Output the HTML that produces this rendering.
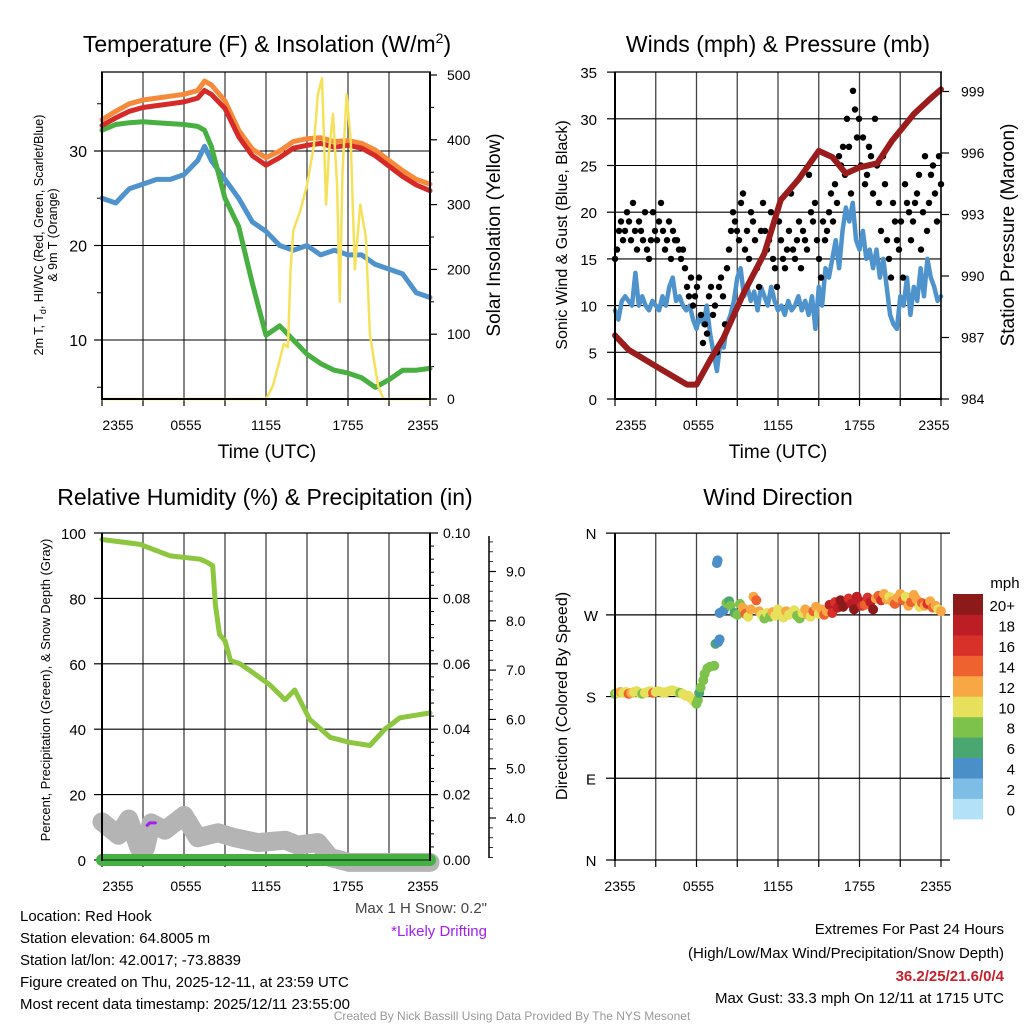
<!DOCTYPE html>
<html><head><meta charset="utf-8"><style>
html,body{margin:0;padding:0;background:#fff;}
svg{display:block;font-family:"Liberation Sans",Arial,sans-serif;}
</style></head><body>
<svg id="root" width="1024" height="1024" viewBox="0 0 1024 1024" xmlns="http://www.w3.org/2000/svg">
<g id="static">
<text x="267" y="52" font-size="23" text-anchor="middle">Temperature (F) &amp; Insolation (W/m<tspan dy="-9" font-size="14">2</tspan><tspan dy="9">)</tspan></text>
<text x="778" y="52" font-size="23" text-anchor="middle">Winds (mph) &amp; Pressure (mb)</text>
<text x="265" y="505" font-size="23" text-anchor="middle">Relative Humidity (%) &amp; Precipitation (in)</text>
<text x="778" y="505" font-size="23" text-anchor="middle">Wind Direction</text>
<text x="267" y="458" font-size="19" text-anchor="middle">Time (UTC)</text>
<text x="778" y="458" font-size="19" text-anchor="middle">Time (UTC)</text>
<g transform="translate(43,235) rotate(-90)"><text x="0" y="0" font-size="12.5" text-anchor="middle">2m T, T<tspan font-size="9" dy="3">d</tspan><tspan dy="-3">, HI/WC (Red, Green, Scarlet/Blue)</tspan></text><text x="0" y="14" font-size="12.5" text-anchor="middle">&amp; 9m T (Orange)</text></g>
<text transform="translate(500,235) rotate(-90)" font-size="19" text-anchor="middle">Solar Insolation (Yellow)</text>
<text transform="translate(567,235) rotate(-90)" font-size="16" text-anchor="middle">Sonic Wind &amp; Gust (Blue, Black)</text>
<text transform="translate(1014,235) rotate(-90)" font-size="19" text-anchor="middle">Station Pressure (Maroon)</text>
<text transform="translate(50,690) rotate(-90)" font-size="13" text-anchor="middle">Percent, Precipitation (Green), &amp; Snow Depth (Gray)</text>
<text transform="translate(567,696) rotate(-90)" font-size="16" text-anchor="middle">Direction (Colored By Speed)</text>
<text x="487" y="913" font-size="15" fill="#444" text-anchor="end">Max 1 H Snow: 0.2"</text>
<text x="487" y="936" font-size="15" fill="#a020f0" text-anchor="end">*Likely Drifting</text>
<g font-size="15">
<text x="20" y="921">Location: Red Hook</text>
<text x="20" y="943">Station elevation: 64.8005 m</text>
<text x="20" y="965">Station lat/lon: 42.0017; -73.8839</text>
<text x="20" y="987">Figure created on Thu, 2025-12-11, at 23:59 UTC</text>
<text x="20" y="1009">Most recent data timestamp: 2025/12/11 23:55:00</text>
</g>
<g font-size="15" text-anchor="end">
<text x="1004" y="934">Extremes For Past 24 Hours</text>
<text x="1004" y="958">(High/Low/Max Wind/Precipitation/Snow Depth)</text>
<text x="1004" y="981" font-weight="bold" fill="#c8202a">36.2/25/21.6/0/4</text>
<text x="1004" y="1003">Max Gust: 33.3 mph On 12/11 at 1715 UTC</text>
</g>
<text x="512" y="1020" font-size="12" fill="#999" text-anchor="middle">Created By Nick Bassill Using Data Provided By The NYS Mesonet</text>
<text x="1005" y="588" font-size="15" text-anchor="middle">mph</text>
</g>
<g id="dyn"></g>
</svg>
<script>
// ---- Time axis ----
const timeTickHours = [0, 6, 12, 18, 24];
const timeTickLabels = ["2355", "0555", "1155", "1755", "2355"];
const gridHours = [0, 3, 6, 9, 12, 15, 18, 21, 24];

// ---- Panel 1: temperature & insolation ----
const tempHours = [0,1,2,3,4,5,6,7,7.5,8,9,10,11,12,13,14,15,16,17,18,19,20,21,22,23,24];
const tempRed = [32.7,33.5,34.2,34.6,34.8,35.0,35.2,35.6,36.4,36.0,34.5,31.5,29.5,28.5,29.3,30.3,30.6,30.8,30.4,30.6,30.3,29.5,28.4,27.3,26.4,25.8];
const tempOrange = [33.3,34.2,35.0,35.4,35.6,35.8,36.0,36.4,37.4,37.0,35.3,32.2,30.2,29.3,30.0,31.0,31.3,31.4,31.0,31.1,30.8,30.1,29.0,27.9,27.0,26.5];
const dewGreen = [32.2,32.8,33.0,33.1,33.0,32.9,32.8,32.6,32.2,30.5,25,22,16,10.5,11.5,10,8.5,7.5,6.8,6.5,6,5,5.8,6.8,6.8,7.0];
const wcBlue = [25,24.5,26,26.5,27,27,27.5,29,30.5,29,27,25,22.5,21.5,20,19.5,20,19,19.5,19,19,18,17.5,17,15,14.5];
const solarHours = [0,12,12.5,13,13.3,13.6,13.8,14,14.5,15,15.5,15.8,16.1,16.4,16.6,16.9,17.2,17.4,17.6,17.9,18.2,18.5,18.9,19.3,19.6,19.9,20.2,20.6,24];
const solarVals = [0,0,20,60,85,80,200,260,290,330,390,470,495,300,380,440,330,150,350,470,400,200,300,250,100,60,20,0,0];
const tempTicks = [10,20,30];
const solarTicks = [0,100,200,300,400,500];

// ---- Panel 2: winds & pressure ----
const windVals = [9.5,8.5,10.5,11, 10.5,10,13.5,10, 11,10,9.5,10.5, 10,9.5,11,10, 12,13,10.5,11, 10,9.5,10,8.5,
 7.5,9,8,10, 7,5,3,6, 5.5,8,9,10.5, 13,14,11,12, 10.5,11.5,9.5,12, 11,10,12,10.5,
 9.5,10,9,10.5, 9.5,10,11,9.5, 10.5,9,11,7.5, 12,10,14,13, 15,17,14,18, 20.5,19,21,17,
 16,18,15,16, 14,16,13,15, 12,9,8,7.5, 11,10,13,9, 12,10.5,14,11, 15,13,12,10.5, 11];
const gustVals = [15,16,18,19,17,18,20,19,17,21,18,16,19,18,17,20,16,15,17,20,18,17,19,21,18,16,17,19,15,18,17,17,16,15,16,14,12,11,13,10,11,12,13,9,6,8,7,11,12,9,10,5,12,13,11,8,14,16,18,20,19,18,17,21,22,16,18,15,20,19,17,14,12,18,21,18,16,17,20,15,14,12,19,17,15,14,16,18,22,16,15,17,19,14,18,17,16,24,20,19,21,17,15,13,19,17,18,20,22,19,23,21,26,25,27,24,30,27,22,33,31,28,30,25,28,23,24,27,26,22,30,25,21,18,26,23,17,15,13,21,19,17,16,19,13,23,21,20,17,19,21,22,24,16,20,26,18,21,24,25,22,19,26,23];
const presHours = [0,1,3,5.3,6,7,8,9.5,11,12.2,13.5,15,16,17,18,19.3,20.4,22,23.3,24];
const presVals = [987.1,986.4,985.6,984.7,984.7,985.9,987,989.2,991.1,993.7,994.7,996.1,995.8,995.0,995.3,995.5,996.6,997.9,998.7,999.1];
const windTicks = [0,5,10,15,20,25,30,35];
const presTicks = [984,987,990,993,996,999];

// ---- Panel 3: humidity, precipitation, snow ----
const rhHours = [0,2.8,5,7.2,7.7,8.1,8.3,8.6,9,9.4,10.1,10.8,12.3,13.4,14.1,15.2,16.7,18.1,19.6,20.7,21.8,24];
const rhVals = [98,96.5,93,92,91,90,78,69,67,61,60,58,53.5,49,52,43,37.5,36,35,40,43.5,45];
const snowHours = [0,1.2,1.95,2.7,3.2,3.6,4.6,6.0,7.0,8.5,9.7,11.4,13.4,14.3,15.8,16.7,18.1,24];
const snowVals = [3.92,3.65,3.98,3.4,3.4,3.9,3.75,4.05,3.6,3.7,3.6,3.5,3.55,3.45,3.5,3.2,3.1,3.1];
const precipHours = [0,24];
const precipVals = [0,0];
const driftHours = [3.3,3.5,3.9];
const driftVals = [3.85,3.9,3.9];
const rhTicks = [0,20,40,60,80,100];
const precipTicks = ["0.00","0.02","0.04","0.06","0.08","0.10"];
const snowTicks = ["4.0","5.0","6.0","7.0","8.0","9.0"];

// ---- Panel 4: wind direction ----
const dirHours = [0,0.2,0.4,0.6,0.8,1.0,1.2,1.4,1.6,1.8,2.0,2.2,2.4,2.6,2.8,3.0,3.2,3.4,3.6,3.8,4.0,4.2,4.4,4.6,4.8,5.0,5.2,
5.4,5.6,5.8,6.0,6.1,6.2,6.3,6.5,6.6,6.8,7.0,7.3,7.4,7.6,7.7,7.5,7.55,7.7,8.0,8.2,8.4,8.5,8.8,9.0,
9.2,9.4,9.6,9.8,10.0,10.2,10.4,10.6,10.8,11.0,11.2,11.4,11.6,11.8,12.0,12.2,12.4,12.6,12.8,13.0,13.2,13.4,13.6,13.8,14.0,14.2,14.4,14.6,14.8,15.0,15.2,15.4,15.6,15.8,16.0,16.2,16.4,16.6,16.8,17.0,17.2,17.4,17.6,17.8,18.0,18.2,18.4,18.6,18.8,19.0,19.2,19.4,19.6,19.8,20.0,20.2,20.4,20.6,20.8,21.0,21.2,21.4,21.6,21.8,22.0,22.2,22.4,22.6,22.8,23.0,23.2,23.4,23.6,23.8,24.0];
const dirDeg = [183,184,185,184,185,183,184,185,186,184,183,184,185,186,184,185,186,185,184,185,186,187,186,185,184,183,181,
181,178,175,172,176,184,190,198,205,211,213,214,238,240,243,327,330,272,275,283,285,280,272,270,
282,278,271,268,276,290,286,274,270,266,272,268,273,269,276,271,267,274,270,272,275,269,266,272,276,270,268,274,279,271,
276,270,274,281,272,284,278,286,279,283,288,282,276,290,285,280,281,289,284,276,
288,291,286,293,287,290,285,282,289,293,286,290,280,284,292,287,279,283,280,282,285,278,280,276,274];
const dirSpd = [8,10,12,10,10,14,12,10,10,10,8,10,10,10,14,10,10,10,10,10,10,10,10,10,8,10,10,
10,10,10,8,8,6,8,8,8,8,8,8,6,4,4,4,4,4,4,8,6,8,6,8,
8,12,14,10,12,12,14,12,10,8,10,8,12,10,10,10,10,12,10,10,10,8,8,10,12,12,10,14,12,10,
12,14,12,18,16,16,18,20,20,20,16,18,20,18,18,16,14,16,18,20,
12,14,16,12,12,10,12,14,12,12,14,10,12,14,12,12,10,14,12,16,12,14,12,10,12];
const dirTickDeg = [0,90,180,270,360];
const dirTickLabels = ["N","E","S","W","N"];
const speedBinLabels = ["0","2","4","6","8","10","12","14","16","18","20+"];
const speedColors = ["#b3e1f7","#7dbde6","#4a8fc7","#4aa772","#7dc24a","#e6e05a","#f7a845","#ee6230","#d7312a","#bd1e25","#8d1a1a"];

// ---- scales ----
const X1 = h => 102 + h * 328 / 24;
const X2 = h => 615 + h * 326 / 24;
const yTemp = t => 340 - (t - 10) * 9.45;
const ySolar = s => 399 - s * 0.648;
const yWind = w => 399 - w * 9.34;
const yPres = p => 399 - (p - 984) * 20.5;
const yRH = r => 860 - r * 3.27;
const ySnow = s => 818 - (s - 4) * 49.3;
const yDir = d => 860 - d * 0.908;

const NS = "http://www.w3.org/2000/svg";
const dyn = document.getElementById("dyn");
function mk(tag, attrs, parent) {
  const e = document.createElementNS(NS, tag);
  for (const k in attrs) e.setAttribute(k, attrs[k]);
  (parent || dyn).appendChild(e);
  return e;
}
function poly(hs, vs, fx, fy, color, w, name) {
  const pts = hs.map((h, i) => fx(h).toFixed(1) + "," + fy(vs[i]).toFixed(1)).join(" ");
  const e = mk("polyline", {points: pts, fill: "none", stroke: color, "stroke-width": w, "stroke-linejoin": "round", "stroke-linecap": "round"});
  
  
  return e;
}
function txt(x, y, s, size, anchor, name, fill) {
  const e = mk("text", {x: x, y: y, "font-size": size, "text-anchor": anchor, fill: fill || "#000"});
  e.textContent = s;
  
  
  return e;
}
function ln(x1, y1, x2, y2, c, w, name) {
  const e = mk("line", {x1: x1, y1: y1, x2: x2, y2: y2, stroke: c, "stroke-width": w});
  
  
  return e;
}
function timeAxis(fx, top, bottom, labelY, name) {
  gridHours.forEach(h => {
    ln(fx(h), top, fx(h), bottom, "#444", 1.3, name + "-vgrid");
    ln(fx(h), bottom, fx(h), bottom + 7, "#000", 1.2, name + "-x-tick");
  });
  const off = [16, 2, 0, 0, -7];
  timeTickHours.forEach((h, i) => txt(fx(h) + off[i], labelY, timeTickLabels[i], 14, "middle", name + "-x-tick-label"));
}

// ===== Panel 1 =====
timeAxis(X1, 72, 399, 430, "temp");
tempTicks.forEach(t => { ln(102, yTemp(t), 430, yTemp(t), "#000", 1.1, "temp-hgrid"); ln(94, yTemp(t), 102, yTemp(t), "#000", 1.2, "temp-y-tick"); txt(87, yTemp(t) + 6, String(t), 16, "end", "temp-y-tick-label"); });
[5, 15, 25, 35].forEach(t => ln(97, yTemp(t), 102, yTemp(t), "#000", 1, "temp-y-minor-tick"));
solarTicks.forEach(s => { ln(430, ySolar(s), 437, ySolar(s), "#000", 1.2, "solar-y-tick"); txt(447, ySolar(s) + 5, String(s), 14, "start", "solar-y-tick-label"); });
[50, 150, 250, 350, 450].forEach(s => ln(430, ySolar(s), 434, ySolar(s), "#000", 1, "solar-y-minor-tick"));
poly(tempHours, wcBlue, X1, yTemp, "#4f93cd", 5, "wind-chill-line");
poly(tempHours, dewGreen, X1, yTemp, "#47b041", 5, "dewpoint-line");
poly(tempHours, tempOrange, X1, yTemp, "#f6893a", 5, "temp-9m-line");
poly(tempHours, tempRed, X1, yTemp, "#d62a28", 5, "temp-2m-line");
poly(solarHours, solarVals, X1, ySolar, "#f6e15a", 2.5, "solar-line");
ln(102, 72, 102, 400, "#000", 2, "temp-left-axis");
ln(430, 72, 430, 400, "#000", 2, "temp-right-axis");
ln(101, 399, 431, 399, "#000", 2, "temp-bottom-axis");
ln(101, 72, 431, 72, "#000", 1.2, "temp-top-border");

// ===== Panel 2 =====
timeAxis(X2, 72, 399, 430, "wind");
windTicks.forEach(w => { if (w > 0 && w < 35) ln(615, yWind(w), 941, yWind(w), "#000", 1.1, "wind-hgrid"); ln(607, yWind(w), 615, yWind(w), "#000", 1.2, "wind-y-tick"); txt(597, yWind(w) + 6, String(w), 15, "end", "wind-y-tick-label"); });
presTicks.forEach(p => { ln(941, yPres(p), 949, yPres(p), "#000", 1.2, "pressure-y-tick"); txt(961, yPres(p) + 5, String(p), 14, "start", "pressure-y-tick-label"); });
const windHours = windVals.map((v, i) => i * 24 / (windVals.length - 1));
poly(windHours, windVals, X2, yWind, "#4f93cd", 4.5, "sonic-wind-line");
gustVals.forEach((g, i) => {
  const h = i * 24 / (gustVals.length - 1);
  const c = mk("circle", {cx: X2(h).toFixed(1), cy: yWind(g).toFixed(1), r: 3.2, fill: "#000"});
  
  
});
poly(presHours, presVals, X2, yPres, "#9b1c1c", 6, "pressure-line");
ln(615, 72, 615, 400, "#000", 2, "wind-left-axis");
ln(941, 72, 941, 400, "#000", 1.5, "wind-right-axis");
ln(614, 399, 942, 399, "#000", 2, "wind-bottom-axis");
ln(614, 72, 942, 72, "#000", 1.2, "wind-top-border");

// ===== Panel 3 =====
timeAxis(X1, 533, 860, 891, "rh");
rhTicks.forEach(r => { if (r > 0 && r < 100) ln(102, yRH(r), 430, yRH(r), "#000", 1.1, "rh-hgrid"); ln(94, yRH(r), 102, yRH(r), "#000", 1.2, "rh-y-tick"); txt(86, yRH(r) + 6, String(r), 15, "end", "rh-y-tick-label"); });
precipTicks.forEach((p, i) => { const y = 860 - i * 65.4; ln(430, y, 438, y, "#000", 1.2, "precip-y-tick"); txt(443, y + 5, p, 14, "start", "precip-y-tick-label"); });
for (let i = 1; i < 25; i++) { if (i % 5) ln(430, 860 - i * 13.08, 434, 860 - i * 13.08, "#000", 1, "precip-minor-tick"); }
ln(489, 536, 489, 858, "#000", 1.5, "snow-axis");
snowTicks.forEach(s => { const y = ySnow(parseFloat(s)); ln(489, y, 496, y, "#000", 1.2, "snow-y-tick"); txt(506, y + 5, s, 14, "start", "snow-y-tick-label"); });
for (let v = 3.2; v < 9.65; v += 0.2) { ln(489, ySnow(v), 493, ySnow(v), "#000", 0.8, "snow-minor-tick"); }
poly(snowHours, snowVals, X1, ySnow, "#b4b4b4", 19, "snow-depth-line");
poly(precipHours, precipVals, X1, v => 860 - v * 3270, "#45b043", 12, "precip-line");
ln(102, 860, 430, 860, "#1a4a1a", 1.5, "rh-bottom-axis");
poly(rhHours, rhVals, X1, yRH, "#8dc63f", 5, "humidity-line");
poly(driftHours, driftVals, X1, ySnow, "#a020f0", 3, "drifting-marker");
ln(102, 533, 102, 861, "#000", 2, "rh-left-axis");
ln(430, 533, 430, 861, "#000", 2, "rh-right-axis");
ln(101, 533, 431, 533, "#000", 1.2, "rh-top-border");

// ===== Panel 4 =====
gridHours.forEach(h => { ln(X2(h), 533, X2(h), 860, "#444", 1.3, "dir-vgrid"); ln(X2(h), 860, X2(h), 867, "#000", 1.2, "dir-x-tick"); });
const off4 = [5, 2, 0, 0, -5];
timeTickHours.forEach((h, i) => txt(X2(h) + off4[i], 891, timeTickLabels[i], 14, "middle", "dir-x-tick-label"));
dirTickDeg.forEach((d, i) => { ln(606, yDir(d), 950, yDir(d), "#000", 1.2, "dir-hgrid"); txt(591, yDir(d) + 6, dirTickLabels[i], 15, "middle", "dir-y-tick-label"); });
dirDeg.forEach((d, i) => {
  const bin = Math.min(10, Math.floor(dirSpd[i] / 2));
  const c = mk("circle", {cx: X2(dirHours[i]).toFixed(1), cy: yDir(d).toFixed(1), r: 5, fill: speedColors[bin]});
  
  
});
ln(615, 533, 615, 861, "#000", 2, "dir-left-axis");
speedBinLabels.forEach((s, i) => {
  const y = 594 + (10 - i) * 20.45;
  const r = mk("rect", {x: 953, y: y.toFixed(1), width: 30, height: 20.9, fill: speedColors[i]});
  
  
  txt(1015, y + 17, s, 15, "end", "colorbar-label");
});
</script>
</body></html>
